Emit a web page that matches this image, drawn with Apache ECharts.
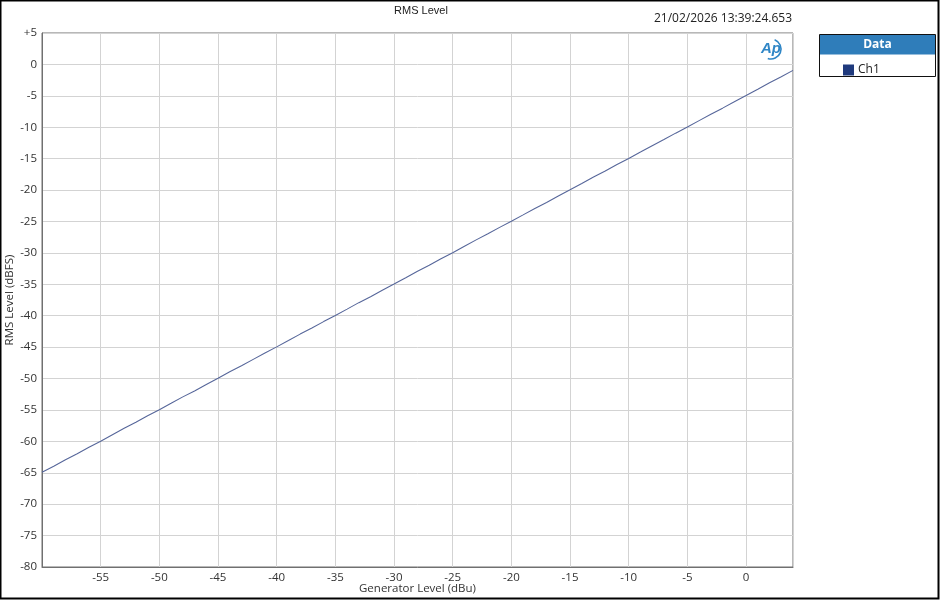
<!DOCTYPE html>
<html>
<head>
<meta charset="utf-8">
<script src="https://cdn.jsdelivr.net/npm/echarts@6/dist/echarts.min.js"></script>
<style>
html,body{margin:0;padding:0;background:#fff;}
#chart{width:940px;height:600px;}
</style>
</head>
<body>
<div id="chart"></div>
<script>
const generatorLevel = [-60,-59,-58,-57,-56,-55,-54,-53,-52,-51,-50,-49,-48,-47,-46,-45,-44,-43,-42,-41,-40,-39,-38,-37,-36,-35,-34,-33,-32,-31,-30,-29,-28,-27,-26,-25,-24,-23,-22,-21,-20,-19,-18,-17,-16,-15,-14,-13,-12,-11,-10,-9,-8,-7,-6,-5,-4,-3,-2,-1,0,1,2,3,4];
const rmsLevelCh1 = [-64.92,-63.97,-62.93,-61.96,-60.94,-59.97,-58.95,-57.93,-56.97,-55.94,-54.96,-53.95,-52.92,-51.97,-50.94,-49.96,-48.93,-47.97,-46.95,-45.92,-44.96,-43.95,-42.93,-41.97,-40.94,-39.96,-38.95,-37.92,-36.97,-35.94,-34.96,-33.95,-32.93,-31.96,-30.94,-29.97,-28.95,-27.93,-26.96,-25.94,-24.96,-23.95,-22.92,-21.97,-20.94,-19.96,-18.95,-17.93,-16.97,-15.94,-14.96,-13.95,-12.93,-11.96,-10.94,-9.97,-8.95,-7.93,-6.96,-5.94,-4.96,-3.95,-2.93,-1.97,-0.95];
const seriesName = 'Ch1';
const titleText = 'RMS Level';
const timestamp = '21/02/2026 13:39:24.653';
const xAxisName = 'Generator Level (dBu)';
const yAxisName = 'RMS Level (dBFS)';

const FONT = '"Open Sans", "Noto Sans", sans-serif';
const chart = echarts.init(document.getElementById('chart'), null, {renderer: 'canvas'});
const data = generatorLevel.map((x, i) => [x, rmsLevelCh1[i]]);

chart.setOption({
  animation: false,
  backgroundColor: '#fff',
  title: {
    text: titleText,
    left: 416, top: 0,
    textAlign: 'center',
    textStyle: {fontFamily: 'Liberation Sans, Arial, sans-serif', fontSize: 11, fontWeight: 'normal', color: '#222'}
  },
  grid: {left: 42, right: 147, top: 33, bottom: 33, show: true, borderColor: '#707070', borderWidth: 1, containLabel: false, outerBoundsMode: 'none'},
  xAxis: {
    type: 'value', min: -60, max: 4, interval: 5,
    name: xAxisName, nameLocation: 'middle', nameGap: 16, nameMoveOverlap: false,
    nameTextStyle: {fontFamily: FONT, fontSize: 11.5, color: '#333'},
    axisLine: {show: true, onZero: false, lineStyle: {color: '#707070'}},
    axisTick: {show: false},
    axisLabel: {
      fontFamily: FONT, fontSize: 11.5, color: '#333', margin: 5,
      formatter: v => (v % 5 === 0 && v > -60 && v <= 0) ? String(v) : ''
    },
    splitLine: {show: true, lineStyle: {color: '#d3d3d3', width: 1}}
  },
  yAxis: {
    type: 'value', min: -80, max: 5, interval: 5,
    name: yAxisName, nameLocation: 'middle', nameGap: 26, nameRotate: 90, nameMoveOverlap: false,
    nameTextStyle: {fontFamily: FONT, fontSize: 11.5, color: '#333'},
    axisLine: {show: true, onZero: false, lineStyle: {color: '#707070'}},
    axisTick: {show: false},
    axisLabel: {
      fontFamily: FONT, fontSize: 11.5, color: '#333', margin: 5,
      formatter: v => v > 0 ? '+' + v : String(v)
    },
    splitLine: {show: true, lineStyle: {color: '#d3d3d3', width: 1}}
  },
  legend: {
    data: [seriesName],
    left: 838, top: 59,
    icon: 'rect', itemWidth: 11, itemHeight: 11, itemGap: 4,
    textStyle: {fontFamily: FONT, fontSize: 12, color: '#222', padding: [0,0,0,-1]}
  },
  series: [{
    name: seriesName,
    type: 'line',
    data: data,
    showSymbol: false,
    symbol: 'none',
    itemStyle: {color: '#1f3a7d'},
    lineStyle: {color: '#56669a', width: 1.1}
  }],
  graphic: [
    {type: 'rect', shape: {x: 0.5, y: 0.5, width: 938, height: 598}, style: {fill: 'none', stroke: '#000', lineWidth: 2}, silent: true},
    {type: 'text', right: 148, top: 13, style: {text: timestamp, font: '12px ' + FONT, fill: '#222'}},
    {type: 'rect', shape: {x: 819.5, y: 34.5, width: 116, height: 42}, style: {fill: '#fff', stroke: '#111', lineWidth: 1}, z: 1},
    {type: 'rect', shape: {x: 820, y: 35, width: 115, height: 19.5}, style: {fill: '#2f7dba'}, z: 2},
    {type: 'text', x: 877.5, y: 45, style: {text: 'Data', font: 'bold 12px ' + FONT, fill: '#fff', align: 'center', verticalAlign: 'middle'}, z: 3},
    {type: 'text', x: 771, y: 49, style: {text: 'Ap', font: 'italic bold 15px "Liberation Sans", Arial, sans-serif', fill: '#2f86c6', align: 'center', verticalAlign: 'middle'}, z: 3},
    {type: 'arc', shape: {cx: 771, cy: 49, r: 10, startAngle: -1.2, endAngle: 1.9}, style: {stroke: '#2f86c6', fill: 'none', lineWidth: 1.6}, z: 3}
  ]
});
</script>
</body>
</html>
